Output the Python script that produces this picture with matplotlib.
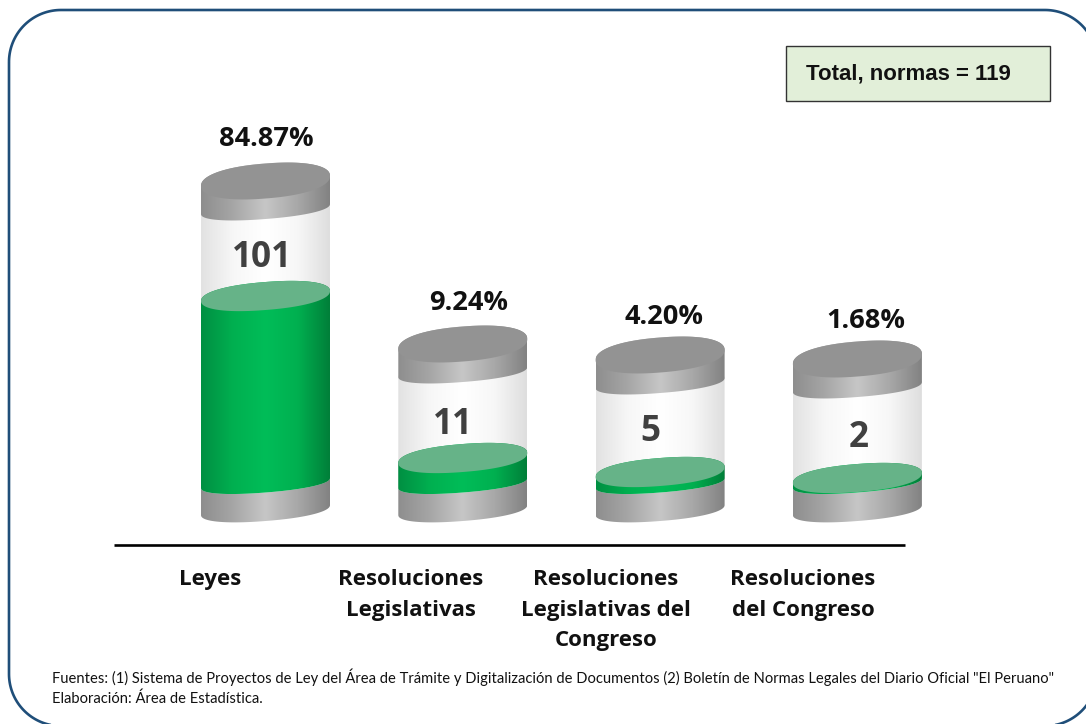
import numpy as np
import matplotlib
matplotlib.use("Agg")
import matplotlib.pyplot as plt
from matplotlib.patches import PathPatch, Rectangle
from matplotlib.path import Path
from matplotlib.colors import LinearSegmentedColormap

categories = ["Leyes", "Resoluciones\nLegislativas", "Resoluciones\nLegislativas del\nCongreso", "Resoluciones\ndel Congreso"]
counts = [101, 11, 5, 2]
percent = ["84.87%", "9.24%", "4.20%", "1.68%"]
# drawn heights above the base of each cylinder
cylinder_top = [330, 167, 156, 152]
fill_top = [215, 53, 39, 33]
fill_bottom = [28, 28, 28, 28]
footer = ['Fuentes: (1) Sistema de Proyectos de Ley del Área de Trámite y Digitalización de Documentos (2) Boletín de Normas Legales del Diario Oficial "El Peruano"',
          'Elaboración: Área de Estadística.']
total_label = "Total, normas = 119"

# layout of the labels, in pixels
pct_pos = [(266, 139), (469, 303), (664, 317), (866, 321)]
count_pos = [(262, 258), (453, 425), (650, 432), (859, 438)]
cat_x = [210, 411, 606, 803]

W, H = 1086, 724
BASE = 511
fig = plt.figure(figsize=(W/100, H/100), dpi=100)
ax = fig.add_axes([0, 0, 1, 1])
ax.set_xlim(0, W); ax.set_ylim(H, 0); ax.axis("off")

gray = LinearSegmentedColormap.from_list("g", ["#8e8e8e", "#a6a6a6", "#c6c6c6", "#a8a8a8", "#828282"])
green = LinearSegmentedColormap.from_list("v", ["#008f42", "#00b050", "#00bd58", "#00b050", "#007f39"])
glass = LinearSegmentedColormap.from_list("c", ["#e2e2e2", "#f7f7f7", "#ffffff", "#f7f7f7", "#dedede"])

A, TILT, BLUNT = 64.5, 5.0, 0.9

def edge(cx, cy, b, t):
    c, s = np.cos(t), np.sin(t)
    cb = np.sign(c) * np.abs(c) ** BLUNT
    sb = np.sign(s) * np.abs(s) ** BLUNT
    return cx + A*cb, cy - TILT*cb + b*sb

def band(cx, y0, b0, y1, b1, cmap, z):
    t = np.linspace(0, np.pi, 120)
    xl, yl = edge(cx, y1, b1, t)
    xu, yu = edge(cx, y0, b0, -t[::-1])
    pts = np.r_[np.c_[xl, yl], np.c_[xu, yu]]
    patch = PathPatch(Path(np.r_[pts, pts[:1]], closed=True), fc="none", ec="none", transform=ax.transData)
    ax.add_patch(patch)
    g = np.linspace(0, 1, 256)[None, :]
    im = ax.imshow(g, cmap=cmap, extent=[cx-A, cx+A, BASE+20, y0-30], aspect="auto", zorder=z, vmin=0, vmax=1)
    im.set_clip_path(patch)

def disc(cx, cy, b, color, z):
    t = np.linspace(0, 2*np.pi, 240)
    x, y = edge(cx, cy, b, t)
    ax.fill(x, y, fc=color, ec="none", zorder=z)

centers = [265.5 + 197.3*i for i in range(len(counts))]
for cx, top, ft, fb in zip(centers, cylinder_top, fill_top, fill_bottom):
    ytop, yf, yb = BASE - top, BASE - ft, BASE - fb
    yband = ytop + 28
    band(cx, yf, 14, BASE - 1, 11, gray, 2)
    band(cx, yband, 10, yb, 9.5, glass, 3)
    band(cx, yf, 14, yb, 9.5, green, 4)
    band(cx, ytop, 17.5, yband, 10, gray, 5)
    disc(cx, ytop, 17.5, "#939393", 6)
    disc(cx, yf, 14, "#66b388", 6)

for (x, y), n in zip(count_pos, counts):
    ax.text(x, y, str(n), ha="center", va="center", fontsize=25.3, fontweight="bold",
            family="Open Sans", color="#404040", zorder=8)
for (x, y), p in zip(pct_pos, percent):
    ax.text(x, y, p, ha="center", va="center", fontsize=19.6, fontweight="bold",
            family="Open Sans", color="#111111", zorder=8)
for x, lab in zip(cat_x, categories):
    ax.text(x, 569, lab, ha="center", va="top", fontsize=16, fontweight="bold", family="Open Sans",
            color="#111111", linespacing=1.6, zorder=8)

ax.plot([114, 905], [545, 545], color="black", lw=1.9, solid_capstyle="butt", zorder=7)

# rounded frame running off the right and bottom edges
R, L, T, RT, B = 52, 9, 10, 1097, 726
def arc(cx, cy, a0, a1):
    a = np.radians(np.linspace(a0, a1, 40))
    return np.c_[cx + R*np.cos(a), cy + R*np.sin(a)]
frame = np.r_[arc(L+R, T+R, 180, 270), arc(RT-R, T+R, 270, 360), arc(RT-R, B-R, 0, 90), arc(L+R, B-R, 90, 180)]
ax.add_patch(PathPatch(Path(np.r_[frame, frame[:1]], closed=True), fc="none", ec="#1f4e79", lw=1.9, zorder=9))

ax.add_patch(Rectangle((786, 46), 264, 55, fc="#e2efd9", ec="#333333", lw=1.0, zorder=9))
ax.text(806, 74, total_label, ha="left", va="center", fontsize=16, fontweight="bold",
        family="Liberation Sans", color="#111111", zorder=10)
ax.text(52, 677, footer[0], ha="left", va="center", fontsize=10.58, family="Lato", color="#111111", zorder=10)
ax.text(52, 699, footer[1], ha="left", va="center", fontsize=10.58, family="Lato", color="#111111", zorder=10)
ax.set_xlim(0, W); ax.set_ylim(H, 0)
fig.savefig("out.png", dpi=100, facecolor="white")
